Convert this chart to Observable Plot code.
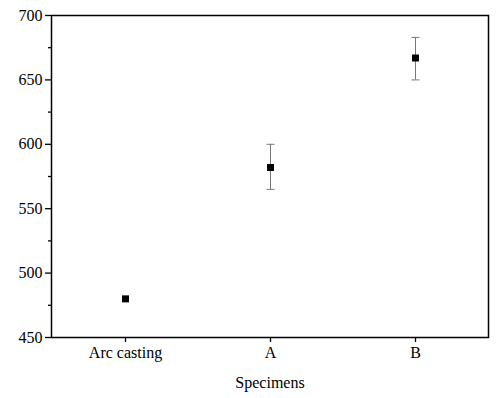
<!DOCTYPE html>
<html>
<head>
<meta charset="utf-8">
<script src="https://cdn.jsdelivr.net/npm/d3@7"></script>
<script src="https://cdn.jsdelivr.net/npm/@observablehq/plot@0.6"></script>
<style>
  html, body { margin: 0; padding: 0; background: #fff; }
</style>
</head>
<body>
<div id="chart"></div>
<script>
const specimens = ["Arc casting", "A", "B"];
const values = [480, 582, 667];
const errLow = [480, 565, 650];
const errHigh = [480, 600, 683];
const yTicks = [450, 500, 550, 600, 650, 700];
const yMinorTicks = [475, 525, 575, 625, 675];

const data = specimens.map((s, i) => ({name: s, v: values[i], lo: errLow[i], hi: errHigh[i]}));
const errData = data.filter(d => d.hi > d.lo);

const capSymbol = {
  draw(context) {
    context.moveTo(-4, 0);
    context.lineTo(4, 0);
  }
};

const FONT = "'Liberation Serif', 'Times New Roman', serif";

const chart = Plot.plot({
  width: 503,
  height: 398,
  marginLeft: 51,
  marginRight: 15,
  marginTop: 15,
  marginBottom: 61,
  style: {fontSize: "16px", color: "black", background: "white"},
  x: {type: "point", domain: specimens, padding: 0.5},
  y: {domain: [450, 700]},
  marks: [
    Plot.axisY({ticks: yTicks, tickSize: 6, tickPadding: 3, label: null, fontSize: 16, strokeWidth: 1.3}),
    Plot.axisY({ticks: yMinorTicks, tickSize: 3, text: null, label: null, strokeWidth: 1.3}),
    Plot.axisX({tickSize: 5, tickPadding: 4, label: "Specimens", labelAnchor: "center", labelArrow: "none", labelOffset: 50, fontSize: 16, strokeWidth: 1.3}),
    Plot.ruleX(errData, {x: "name", y1: "lo", y2: "hi", stroke: "#777", strokeWidth: 1}),
    Plot.dot(errData, {x: "name", y: "lo", symbol: capSymbol, stroke: "#777", strokeWidth: 1, fill: "none", r: 4}),
    Plot.dot(errData, {x: "name", y: "hi", symbol: capSymbol, stroke: "#777", strokeWidth: 1, fill: "none", r: 4}),
    Plot.dot(data, {x: "name", y: "v", symbol: "square", fill: "black", stroke: "none", r: 3.95}),
    Plot.frame({stroke: "black", strokeWidth: 1.5})
  ]
});
chart.setAttribute("font-family", FONT);
chart.style.fontFamily = FONT;
chart.querySelectorAll("g, text").forEach(el => {
  if (el.hasAttribute("font-family")) el.setAttribute("font-family", FONT);
  if (el.tagName === "text") el.style.fontFamily = FONT;
});
document.getElementById("chart").appendChild(chart);
</script>
</body>
</html>
